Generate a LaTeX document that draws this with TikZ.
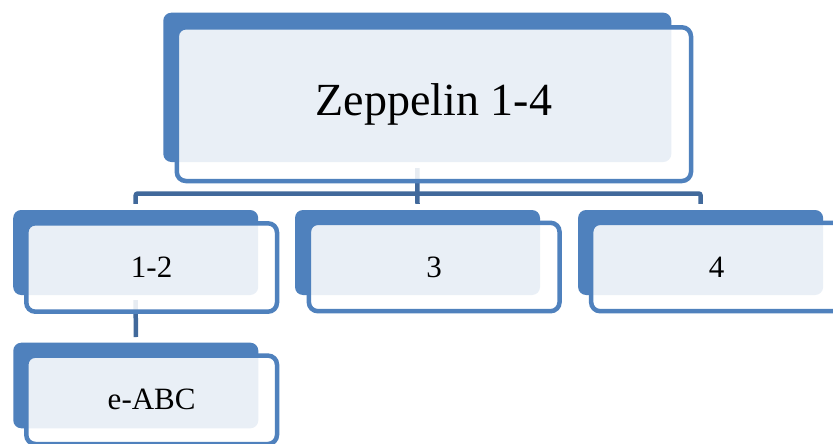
\documentclass[tikz,border=0pt]{standalone}
\usepackage{fontspec}
\setmainfont{Liberation Serif}
\definecolor{accent}{RGB}{79,129,189}
\definecolor{linkblue}{RGB}{65,105,155}
\tikzset{
  backbox/.style={rectangle, rounded corners=8pt, fill=accent, draw=none, inner sep=0pt},
  frontbox/.style={rectangle, rounded corners=9pt, fill=white, fill opacity=0.88, text opacity=1,
                   draw=accent, line width=4.5pt, inner sep=0pt, text=black},
  lowsize/.style={minimum width=245pt, minimum height=85pt},
  lowfront/.style={minimum width=250.7pt, minimum height=88.4pt, font=\fontsize{31}{36}\selectfont},
  conn/.style={draw=linkblue, line width=4.5pt, rounded corners=2pt}
}
\begin{document}
\begin{tikzpicture}[x=1pt,y=-1pt]
  \useasboundingbox (0,0) rectangle (833,444);
  \clip (0,0) rectangle (833,444);
  \fill[white] (0,0) rectangle (833,444);

  % back plates
  \node[backbox, minimum width=508pt, minimum height=149.3pt] (topB) at (417.3,87.35) {};
  \node[backbox, lowsize] (b12B) at (135.7,252.5) {};
  \node[backbox, lowsize] (b3B)  at (417.5,252.5) {};
  \node[backbox, lowsize] (b4B)  at (700.6,252.5) {};
  \node[backbox, minimum width=245pt, minimum height=85.6pt] (beB) at (135.8,385.5) {};

  % connectors
  \coordinate (bus) at (417.5,193.5);
  \draw[conn] ([yshift=6pt]b12B.north) |- (bus) -| ([yshift=6pt]b4B.north);
  \draw[conn] ([yshift=-6pt]topB.south) -- ([yshift=6pt]b3B.north);
  \draw[conn] ([yshift=-5pt]b12B.south) -- ([yshift=5.5pt]beB.north);

  % front cards
  \node[frontbox, minimum width=514.2pt, minimum height=153.7pt,
        font=\fontsize{46}{52}\selectfont] (top) at (433.9,104.15) {Zeppelin 1-4};
  \node[frontbox, lowfront] (b12) at (151.65,267.5) {1-2};
  \node[frontbox, lowfront] (b3)  at (434.2,267.0) {3};
  \node[frontbox, lowfront] (b4)  at (716.5,267.0) {4};
  \node[frontbox, lowfront] (be)  at (151.65,399.8) {e-ABC};
\end{tikzpicture}
\end{document}
